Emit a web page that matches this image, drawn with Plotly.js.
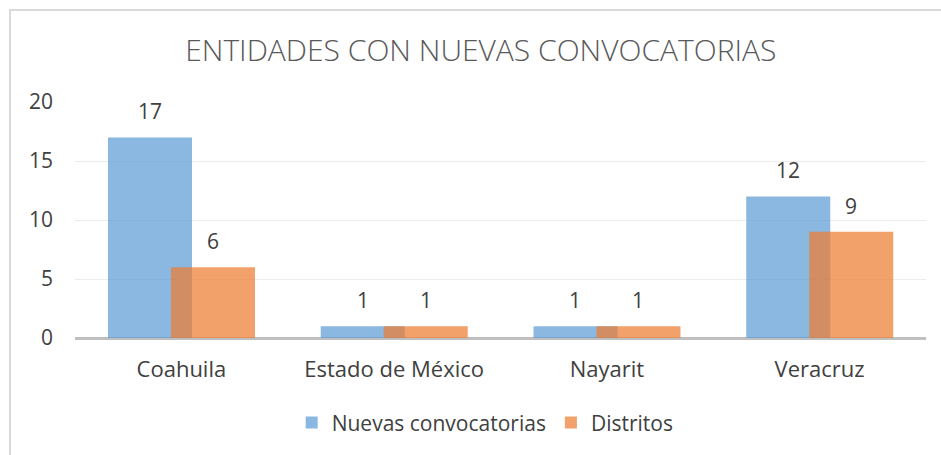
<!DOCTYPE html>
<html>
<head>
<meta charset="utf-8">
<script src="https://cdn.plot.ly/plotly-3.0.1.min.js"></script>
<style>html,body{margin:0;padding:0;background:#fff;}#chart{width:941px;height:455px;}</style>
</head>
<body>
<div id="chart"></div>
<script>
const categories = ["Coahuila", "Estado de México", "Nayarit", "Veracruz"];
const nuevasConvocatorias = [17, 1, 1, 12];
const distritos = [6, 1, 1, 9];
const yTicks = [0, 5, 10, 15, 20];
const seriesNames = ["Nuevas convocatorias", "Distritos"];
const chartTitle = "ENTIDADES CON NUEVAS CONVOCATORIAS";

const FONT = "Open Sans, sans-serif";
const barW = 0.395;
const offA = -0.345;
const offB = -0.049;

const traces = [
  {type: "bar", name: seriesNames[0], x: categories, y: nuevasConvocatorias,
   width: barW, offset: offA, marker: {color: "rgba(91,155,213,0.71)"}, hoverinfo: "x+y"},
  {type: "bar", name: seriesNames[1], x: categories, y: distritos,
   width: barW, offset: offB, marker: {color: "rgba(237,125,49,0.72)"}, hoverinfo: "x+y"}
];

const annotations = [];
function addLabels(vals, off) {
  vals.forEach((v, i) => {
    annotations.push({x: i + off + barW / 2, y: v, xref: "x", yref: "y", text: String(v),
      showarrow: false, yanchor: "middle", xanchor: "center", yshift: 26,
      font: {family: FONT, size: 21, color: "#404040"}});
  });
}
addLabels(nuevasConvocatorias, offA);
addLabels(distritos, offB);

const layout = {
  width: 941, height: 455,
  margin: {l: 75, r: 15, t: 102, b: 117},
  paper_bgcolor: "#fff", plot_bgcolor: "#fff",
  barmode: "overlay",
  title: {text: chartTitle, x: 0.511, xanchor: "center", y: 0.89, yanchor: "middle",
    font: {family: FONT, size: 30, color: "#595959", weight: 300}},
  xaxis: {type: "category", showgrid: false, zeroline: false, showline: false, ticks: "",
    range: [-0.5, 3.5], ticklabelstandoff: 16,
    tickfont: {family: FONT, size: 22, color: "#404040"}},
  yaxis: {range: [0, 20], tickvals: yTicks, ticktext: yTicks.map(String), showgrid: true,
    gridcolor: "#ececec", gridwidth: 1, zeroline: true, zerolinecolor: "#bfbfbf", zerolinewidth: 3,
    showline: false, ticks: "", ticklabelstandoff: 21,
    tickfont: {family: FONT, size: 21, color: "#404040"}},
  legend: {orientation: "h", x: 0.482, xanchor: "center", y: -0.36, yanchor: "middle",
    font: {family: FONT, size: 21, color: "#404040"}, itemwidth: 30, tracegroupgap: 0},
  annotations: annotations,
  shapes: [{type: "rect", xref: "paper", yref: "paper", x0: -0.0764, x1: 1.05, y0: -0.6, y1: 1.39,
    line: {color: "#d9d9d9", width: 2}, fillcolor: "rgba(0,0,0,0)", layer: "below"}],
  showlegend: true
};

Plotly.newPlot("chart", traces, layout, {displayModeBar: false, staticPlot: true});
</script>
</body>
</html>
